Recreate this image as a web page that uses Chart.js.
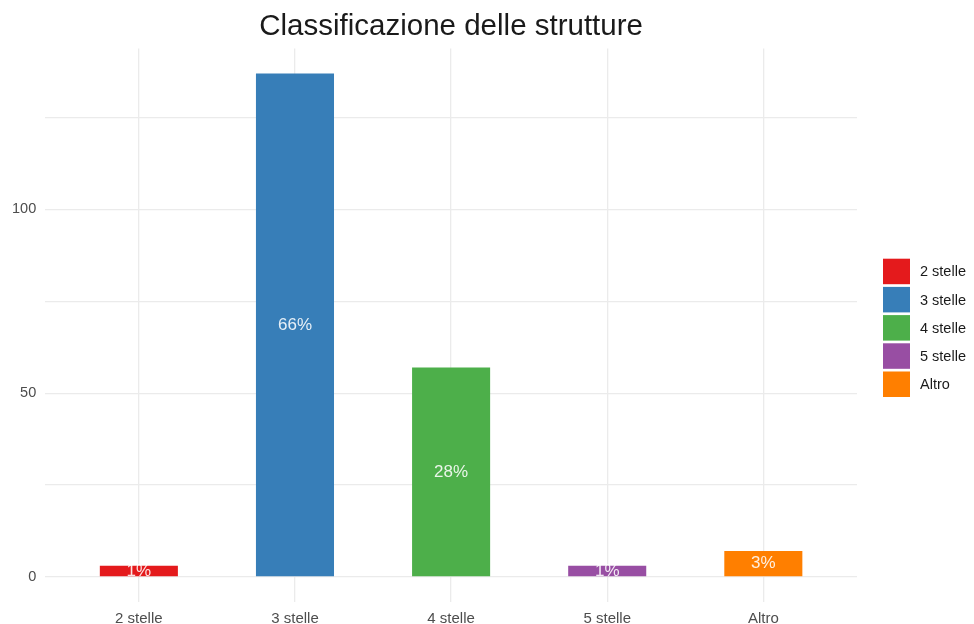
<!DOCTYPE html>
<html>
<head>
<meta charset="utf-8">
<script src="https://cdn.jsdelivr.net/npm/chart.js@4"></script>
<style>
  html, body { margin: 0; padding: 0; background: #fff; }
  #wrap { width: 974px; height: 624px; }
</style>
</head>
<body>
<div id="wrap"><canvas id="chart"></canvas></div>
<script>
const categories = ["2 stelle", "3 stelle", "4 stelle", "5 stelle", "Altro"];
const counts = [3, 137, 57, 3, 7];
const colors = ["#e41a1c", "#377eb8", "#4daf4a", "#984ea3", "#ff7f00"];
const yTicks = [0, 25, 50, 75, 100, 125];
const yLabelled = [0, 50, 100];

const positions = categories.map((c, i) => i + 1);
const total = counts.reduce((a, b) => a + b, 0);
const maxCount = Math.max(...counts);
const FONT = "'Liberation Sans', Arial, sans-serif";

// percentage labels drawn in the middle of each bar
const barLabels = {
  id: "barLabels",
  afterDatasetsDraw(chart) {
    const ctx = chart.ctx;
    const meta = chart.getDatasetMeta(0);
    ctx.save();
    ctx.font = "17px " + FONT;
    ctx.fillStyle = "rgba(255,255,255,0.88)";
    ctx.textAlign = "center";
    ctx.textBaseline = "middle";
    meta.data.forEach((bar, i) => {
      const pct = Math.round(counts[i] / total * 100) + "%";
      ctx.fillText(pct, bar.x, (bar.y + bar.base) / 2);
    });
    ctx.restore();
  }
};

// ggplot-style legend on the right, centred on the panel
const sideLegend = {
  id: "sideLegend",
  afterDraw(chart) {
    const ctx = chart.ctx;
    const area = chart.chartArea;
    const box = 27, boxH = 25.5, step = 28.2;
    const left = area.right + 26;
    let top = (area.top + area.bottom) / 2 + 4 - (categories.length * step) / 2;
    ctx.save();
    ctx.font = "14.5px " + FONT;
    ctx.textBaseline = "middle";
    categories.forEach((c, i) => {
      ctx.fillStyle = colors[i];
      ctx.fillRect(left, top + i * step, box, boxH);
      ctx.fillStyle = "#1a1a1a";
      ctx.fillText(c, left + box + 10, top + i * step + boxH / 2 + 1);
    });
    ctx.restore();
  }
};

const ctx = document.getElementById("chart").getContext("2d");
new Chart(ctx, {
  type: "bar",
  data: {
    datasets: [{
      data: positions.map((x, i) => ({ x: x, y: counts[i] })),
      backgroundColor: colors,
      borderWidth: 0,
      barPercentage: 0.5,
      categoryPercentage: 1.0
    }]
  },
  options: {
    responsive: true,
    maintainAspectRatio: false,
    animation: false,
    layout: { padding: { left: 3, right: 117, top: 0, bottom: -12 } },
    scales: {
      x: {
        type: "linear",
        min: 0.4,
        max: 5.6,
        offset: false,
        afterBuildTicks(scale) {
          scale.ticks = positions.map(v => ({ value: v }));
        },
        ticks: {
          callback: v => categories[v - 1],
          color: "#4d4d4d",
          font: { family: FONT, size: 15 },
          padding: 8,
          maxRotation: 0
        },
        grid: { color: "#ebebeb", lineWidth: 1.3, drawTicks: false, offset: false },
        border: { display: false }
      },
      y: {
        min: -0.05 * maxCount,
        max: 1.05 * maxCount,
        afterBuildTicks(scale) {
          scale.ticks = yTicks.map(v => ({ value: v }));
        },
        ticks: {
          callback: v => yLabelled.includes(v) ? v : "",
          color: "#4d4d4d",
          font: { family: FONT, size: 14.5 },
          padding: 9
        },
        grid: { color: "#ebebeb", lineWidth: 1.3, drawTicks: false },
        border: { display: false }
      }
    },
    plugins: {
      title: {
        display: true,
        text: "Classificazione delle strutture",
        fullSize: false,
        color: "#1a1a1a",
        font: { family: FONT, size: 29.5, weight: "normal" },
        padding: { top: 9, bottom: 4 }
      },
      legend: { display: false },
      tooltip: { enabled: false }
    }
  },
  plugins: [barLabels, sideLegend]
});
</script>
</body>
</html>
